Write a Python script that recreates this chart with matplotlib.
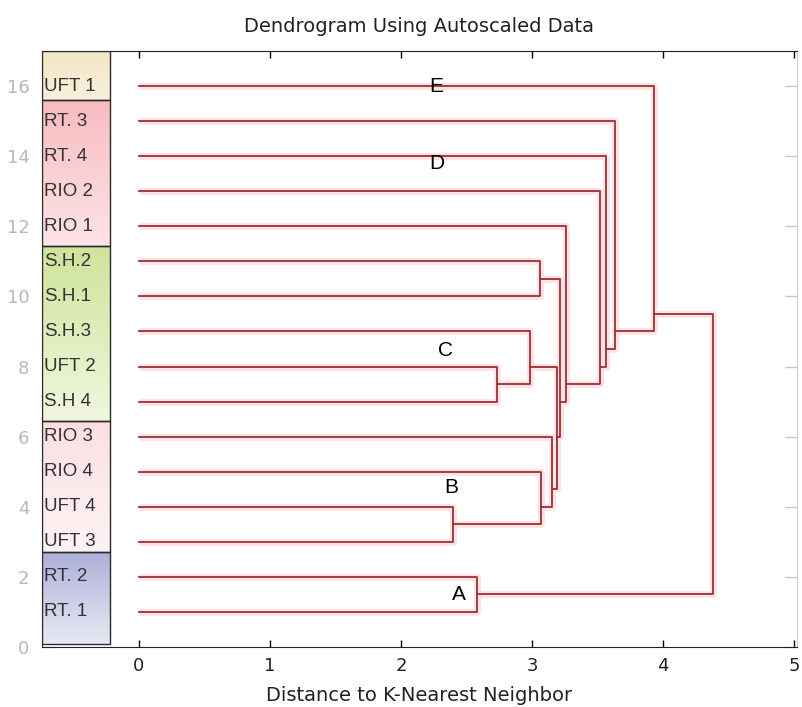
import numpy as np
import matplotlib
matplotlib.use('Agg')
import matplotlib.pyplot as plt
from matplotlib.colors import to_rgb

# Leaf labels, bottom (position 1) to top (position 16)
leaf_labels = ['RT. 1', 'RT. 2', 'UFT 3', 'UFT 4', 'RIO 4', 'RIO 3', 'S.H 4', 'UFT 2',
               'S.H.3', 'S.H.1', 'S.H.2', 'RIO 1', 'RIO 2', 'RT. 4', 'RT. 3', 'UFT 1']

# Linkage: leaves are ids 0..15, merge k creates node id 16 + k
merge_left = [0, 2, 17, 18, 6, 20, 9, 21, 23, 24, 25, 26, 27, 28, 29]
merge_right = [1, 3, 4, 5, 7, 8, 10, 19, 22, 11, 12, 13, 14, 15, 16]
merge_height = [2.58, 2.395, 3.07, 3.15, 2.73, 2.985, 3.06, 3.19, 3.21, 3.26,
                3.52, 3.56, 3.63, 3.93, 4.38]

# Coloured group bands down the left side
band_edges = [0.08, 2.7, 6.45, 11.45, 15.6, 17.0]
band_top = ['#adb0d8', '#fbdfe3', '#cfe39a', '#f8bcc0', '#f3e6c6']
band_bottom = ['#e8e9f4', '#fdf3f4', '#f0f7de', '#fde4e6', '#f8f0dc']

# Cluster annotations
note_letters = ['A', 'B', 'C', 'D', 'E']
note_x = [2.44, 2.38, 2.34, 2.27, 2.27]
note_y = [1.5, 4.55, 8.45, 13.8, 16.0]

x_ticks = [0, 1, 2, 3, 4, 5]
y_ticks = [0, 2, 4, 6, 8, 10, 12, 14, 16]

line_color = '#9c2f36'


def build_tree():
    """Return x (height) and y (leaf mean position) for every node."""
    n = len(leaf_labels)
    node_x = {i: 0.0 for i in range(n)}
    leaves = {i: [i + 1] for i in range(n)}
    for k, (a, b, h) in enumerate(zip(merge_left, merge_right, merge_height)):
        nid = n + k
        node_x[nid] = h
        leaves[nid] = leaves[a] + leaves[b]
    node_y = {i: np.mean(v) for i, v in leaves.items()}
    return node_x, node_y


def main():
    fig = plt.figure(figsize=(8.02, 7.07), dpi=100)
    ax = fig.add_axes([42 / 802, 60 / 707, 755 / 802, 596 / 707])

    node_x, node_y = build_tree()
    for a, b, h in zip(merge_left, merge_right, merge_height):
        xs = [node_x[a], h, h, node_x[b]]
        ys = [node_y[a], node_y[a], node_y[b], node_y[b]]
        ax.plot(xs, ys, color='#fde3e3', lw=5, zorder=1.8, solid_capstyle='butt')
        ax.plot(xs, ys, color=line_color, lw=1.3, zorder=2)

    xmin = -0.74
    band_right = -0.22
    for lo, hi, ctop, cbot in zip(band_edges[:-1], band_edges[1:], band_top, band_bottom):
        t = np.linspace(0, 1, 64)[:, None]
        grad = (1 - t) * np.array(to_rgb(ctop)) + t * np.array(to_rgb(cbot))
        ax.imshow(grad[:, None, :], extent=[xmin, band_right, lo, hi], aspect='auto',
                  origin='upper', zorder=3, interpolation='bilinear')
        ax.add_patch(plt.Rectangle((xmin, lo), band_right - xmin, hi - lo, fill=False,
                                   ec='#2a2a2a', lw=1.0, zorder=3.5))

    for i, lab in enumerate(leaf_labels):
        ax.text(xmin + 0.015, i + 1, lab, fontsize=13.5, family='Liberation Sans',
                color='#333333', va='center', ha='left', zorder=4)

    for letter, x, y in zip(note_letters, note_x, note_y):
        ax.text(x, y, letter, fontsize=15, family='Liberation Sans', color='black',
                ha='center', va='center', zorder=4)

    ax.set_xlim(xmin, 5.02)
    ax.set_ylim(0, 17)
    ax.set_xticks(x_ticks)
    ax.set_yticks(y_ticks)
    ax.tick_params(axis='x', direction='in', top=True, length=5, width=1,
                   labelsize=13, pad=7, labelcolor='#222222')
    ax.tick_params(axis='y', direction='in', right=True, length=9, width=1,
                   color='#c8c8c8', labelsize=13, labelcolor='#b8b8b8', pad=9)
    for side in ['top', 'bottom', 'left']:
        ax.spines[side].set_color('#222222')
    ax.spines['right'].set_color('#d0d0d0')

    ax.set_title('Dendrogram Using Autoscaled Data', fontsize=14, color='#222222', pad=14)
    ax.set_xlabel('Distance to K-Nearest Neighbor', fontsize=14, color='#222222', labelpad=8)

    fig.savefig('out.png', dpi=100)


if __name__ == '__main__':
    main()
